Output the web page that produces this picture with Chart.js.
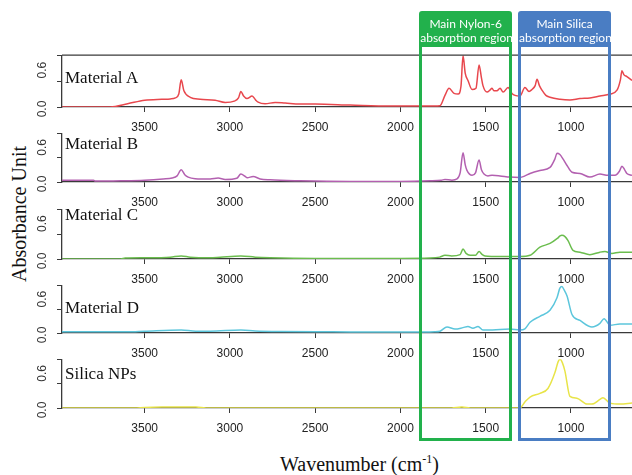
<!DOCTYPE html>
<html>
<head>
<meta charset="utf-8">
<script src="https://cdn.jsdelivr.net/npm/chart.js@4/dist/chart.umd.min.js"></script>
<style>
  html, body { margin: 0; padding: 0; background: #fff; }
  #wrap { position: relative; width: 632px; height: 475px; overflow: hidden; background: #fff; }
  canvas.panel { position: absolute; left: 0; }
  .mat { position: absolute; left: 65px; font: 17px "Liberation Serif", "Times New Roman", serif; line-height: 17px; color: #111; white-space: nowrap; }
  .ytitle { position: absolute; font: 20px "Liberation Serif", serif; color: #111; white-space: nowrap; transform: translate(-50%, -50%) rotate(-90deg); left: 19px; top: 214px; }
  .xtitle { position: absolute; left: 280px; top: 453px; font: 20px "Liberation Serif", serif; line-height: 22px; color: #111; white-space: nowrap; }
  .xtitle sup { font-size: 12px; vertical-align: 8px; line-height: 0; }
  .box { position: absolute; box-sizing: border-box; border: 3px solid; border-radius: 3px 3px 0 0; }
  .box .hdr { position: absolute; left: -2px; right: -2px; top: 0; height: 33px; color: #fff; text-align: center;
              font: 12px Lato, "Open Sans", sans-serif; line-height: 14px; padding-top: 3px; box-sizing: border-box; white-space: nowrap; }
</style>
</head>
<body>
<div id="wrap">
  <div class="ytitle">Absorbance Unit</div>
  <div class="xtitle">Wavenumber (cm<sup>-1</sup>)</div>
</div>
<script>
// ---- data ----
const materials = ['Material A', 'Material B', 'Material C', 'Material D', 'Silica NPs'];
const wavenumberTicks = [3500, 3000, 2500, 2000, 1500, 1000];
const absorbanceTicks = [0, 0.2, 0.4, 0.6, 0.8];
const labeledAbsorbance = [0, 0.6];
const nylonRegion = [1890, 1345];
const silicaRegion = [1310, 765];
const nylonLabel = ['Main Nylon-6', 'absorption region'];
const silicaLabel = ['Main Silica', 'absorption region'];

const wnA = [3985, 3702, 3600, 3500, 3400, 3350, 3320, 3300, 3286, 3270, 3233, 3175, 3087, 3028, 2975, 2950, 2936, 2920, 2900, 2870, 2850, 2835, 2794, 2735, 2676, 2589, 2500, 2295, 2061, 1885, 1800, 1768, 1739, 1715, 1686, 1662, 1645, 1633, 1620, 1604, 1580, 1557, 1539, 1525, 1516, 1492, 1475, 1463, 1452, 1434, 1416, 1398, 1369, 1346, 1328, 1299, 1270, 1246, 1229, 1210, 1199, 1185, 1170, 1147, 1123, 1064, 1006, 947, 889, 830, 771, 730, 710, 701, 690, 672, 642];
const absA = [0, 0, 0.05, 0.105, 0.12, 0.125, 0.14, 0.2, 0.42, 0.25, 0.15, 0.12, 0.105, 0.07, 0.09, 0.14, 0.24, 0.17, 0.13, 0.17, 0.11, 0.075, 0.05, 0.07, 0.06, 0.045, 0.045, 0.03, 0.015, 0.015, 0.015, 0.02, 0.18, 0.29, 0.21, 0.2, 0.32, 0.79, 0.52, 0.41, 0.27, 0.29, 0.65, 0.45, 0.33, 0.23, 0.26, 0.29, 0.25, 0.25, 0.29, 0.23, 0.30, 0.21, 0.18, 0.17, 0.30, 0.24, 0.27, 0.33, 0.43, 0.33, 0.26, 0.18, 0.15, 0.12, 0.11, 0.13, 0.14, 0.17, 0.2, 0.26, 0.42, 0.56, 0.5, 0.47, 0.41];

const wnB = [3985, 3800, 3790, 3640, 3500, 3392, 3339, 3310, 3286, 3265, 3245, 3204, 3116, 3069, 3028, 2960, 2936, 2910, 2899, 2864, 2823, 2764, 2589, 2295, 2002, 1826, 1760, 1739, 1698, 1668, 1650, 1633, 1620, 1610, 1580, 1560, 1539, 1525, 1510, 1487, 1463, 1416, 1358, 1299, 1270, 1240, 1182, 1123, 1094, 1082, 1065, 1047, 1023, 994, 947, 889, 830, 783, 742, 715, 701, 685, 672, 642];
const absB = [0.03, 0.03, 0.015, 0.02, 0.03, 0.05, 0.065, 0.1, 0.2, 0.12, 0.08, 0.055, 0.05, 0.065, 0.04, 0.06, 0.13, 0.09, 0.07, 0.09, 0.05, 0.035, 0.02, 0.01, 0.01, 0.02, 0.03, 0.04, 0.03, 0.05, 0.15, 0.48, 0.28, 0.19, 0.11, 0.15, 0.36, 0.2, 0.13, 0.1, 0.11, 0.1, 0.08, 0.075, 0.1, 0.14, 0.19, 0.24, 0.38, 0.47, 0.45, 0.38, 0.27, 0.16, 0.14, 0.08, 0.13, 0.11, 0.11, 0.18, 0.26, 0.2, 0.14, 0.11];

const wnC = [3985, 3640, 3615, 3500, 3350, 3286, 3233, 3116, 3057, 2936, 2852, 2764, 2500, 2000, 1826, 1770, 1739, 1700, 1650, 1633, 1615, 1592, 1560, 1539, 1520, 1504, 1416, 1299, 1240, 1182, 1123, 1080, 1064, 1053, 1035, 1018, 988, 947, 889, 830, 801, 760, 713, 642];
const absC = [0, 0, 0.015, 0.02, 0.03, 0.05, 0.03, 0.02, 0.03, 0.05, 0.03, 0.02, 0.01, 0.01, 0.015, 0.03, 0.06, 0.05, 0.07, 0.16, 0.09, 0.06, 0.06, 0.12, 0.07, 0.05, 0.04, 0.04, 0.06, 0.19, 0.25, 0.33, 0.37, 0.38, 0.36, 0.3, 0.14, 0.11, 0.07, 0.11, 0.12, 0.09, 0.11, 0.11];

const wnD = [3985, 3600, 3500, 3286, 3200, 3116, 2936, 2852, 2700, 2400, 2000, 1943, 1800, 1768, 1727, 1680, 1633, 1604, 1575, 1545, 1516, 1475, 1416, 1358, 1299, 1270, 1240, 1182, 1123, 1082, 1065, 1053, 1040, 1023, 994, 947, 877, 830, 806, 771, 713, 642];
const absD = [0.02, 0.02, 0.03, 0.05, 0.03, 0.03, 0.05, 0.035, 0.025, 0.02, 0.015, 0.015, 0.02, 0.03, 0.1, 0.065, 0.09, 0.11, 0.08, 0.11, 0.05, 0.05, 0.06, 0.065, 0.05, 0.07, 0.18, 0.28, 0.38, 0.59, 0.75, 0.78, 0.72, 0.62, 0.31, 0.21, 0.1, 0.16, 0.24, 0.13, 0.15, 0.15];

const wnE = [3985, 3560, 3500, 3400, 3200, 3140, 2800, 1700, 1640, 1590, 1300, 1270, 1240, 1182, 1135, 1094, 1075, 1064, 1050, 1035, 1006, 965, 906, 877, 830, 812, 771, 713, 642];
const absE = [0, 0, 0.01, 0.015, 0.015, 0, 0, 0, 0.015, 0, 0, 0.1, 0.18, 0.24, 0.32, 0.58, 0.76, 0.8, 0.74, 0.6, 0.19, 0.16, 0.065, 0.065, 0.14, 0.17, 0.08, 0.065, 0.08];

const wavenumbers = [wnA, wnB, wnC, wnD, wnE];
const absorbances = [absA, absB, absC, absD, absE];

// ---- styles / layout ----
const lineColors = ['#e8474d', '#b360b0', '#6bbd4e', '#5cc6dc', '#e8e448'];
const panelTop = [54, 132, 208, 284, 358];
const panelBottom = [107, 182, 259, 333, 408];
const labelBaselineOffset = [29, 17, 12, 29, 21];
const X_MIN = 642, X_MAX = 3985;
const AXIS_COLOR = '#3a3a3a';

Chart.defaults.font.family = '"Liberation Sans", Arial, sans-serif';
Chart.defaults.font.size = 12;
Chart.defaults.color = '#222';

const yLabelPlugin = {
  id: 'yLabels',
  afterDraw(chart, args, opts) {
    const ctx = chart.ctx, ys = chart.scales.y, a = chart.chartArea;
    ctx.save();
    ctx.font = '12px "Liberation Sans", Arial, sans-serif';
    ctx.fillStyle = '#333';
    ctx.textAlign = 'center';
    ctx.textBaseline = 'middle';
    labeledAbsorbance.forEach(v => {
      const py = ys.getPixelForValue(v);
      ctx.save();
      ctx.translate(a.left - 19, py + 2);
      ctx.rotate(-Math.PI / 2);
      ctx.fillText(v.toFixed(1), 0, 0);
      ctx.restore();
    });
    if (opts.topBorder) {
      ctx.strokeStyle = AXIS_COLOR;
      ctx.lineWidth = 1.3;
      ctx.beginPath();
      ctx.moveTo(a.left, a.top);
      ctx.lineTo(a.right, a.top);
      ctx.stroke();
    }
    ctx.restore();
  }
};

const wrap = document.getElementById('wrap');
const PAD_TOP = 6, XAXIS_H = 30;
const charts = [];

materials.forEach((name, i) => {
  const cv = document.createElement('canvas');
  cv.className = 'panel';
  const h = PAD_TOP + (panelBottom[i] - panelTop[i]) + XAXIS_H;
  cv.width = 632; cv.height = h;
  cv.style.top = (panelTop[i] - PAD_TOP) + 'px';
  cv.style.width = '632px'; cv.style.height = h + 'px';
  wrap.appendChild(cv);

  const pts = wavenumbers[i].map((w, k) => ({ x: w, y: absorbances[i][k] }));
  const ch = new Chart(cv, {
    type: 'line',
    data: { datasets: [{ label: name, data: pts, borderColor: lineColors[i], borderWidth: 1.5,
      pointRadius: 0, fill: false, cubicInterpolationMode: 'monotone' }] },
    options: {
      responsive: false, animation: false, devicePixelRatio: 1,
      layout: { padding: { top: PAD_TOP, left: 0, right: 0, bottom: 0 } },
      plugins: { legend: { display: false }, tooltip: { enabled: false }, yLabels: { topBorder: i === 0 } },
      scales: {
        x: {
          type: 'linear', reverse: true, min: X_MIN, max: X_MAX, z: 1,
          afterBuildTicks: s => { s.ticks = wavenumberTicks.map(v => ({ value: v })); },
          afterFit: s => { s.height = XAXIS_H; },
          ticks: { callback: v => String(v), padding: 8, maxRotation: 0, color: '#222', font: { size: 12 } },
          grid: { display: true, drawOnChartArea: false, drawTicks: true, tickLength: 5, color: AXIS_COLOR, lineWidth: 1 },
          border: { display: true, color: AXIS_COLOR, width: 1.3 }
        },
        y: {
          type: 'linear', min: 0, max: 0.8,
          afterBuildTicks: s => { s.ticks = absorbanceTicks.map(v => ({ value: v })); },
          afterFit: s => { s.width = 62; },
          ticks: { callback: () => '', padding: 0 },
          grid: { display: true, drawOnChartArea: false, drawTicks: true, tickLength: 5, color: AXIS_COLOR, lineWidth: 1 },
          border: { display: true, color: AXIS_COLOR, width: 1.3 }
        }
      }
    },
    plugins: [yLabelPlugin]
  });
  charts.push(ch);

  const lab = document.createElement('div');
  lab.className = 'mat';
  lab.textContent = name;
  lab.style.top = (panelTop[i] + labelBaselineOffset[i] - 14.2) + 'px';
  wrap.appendChild(lab);
});

// region boxes positioned from the x scale
function addBox(region, lines, color) {
  const xs = charts[0].scales.x;
  const l = xs.getPixelForValue(region[0]);
  const r = xs.getPixelForValue(region[1]);
  const box = document.createElement('div');
  box.className = 'box';
  box.style.borderColor = color;
  box.style.left = l + 'px';
  box.style.width = (r - l) + 'px';
  box.style.top = '11px';
  box.style.height = '430px';
  const hdr = document.createElement('div');
  hdr.className = 'hdr';
  hdr.style.background = color;
  lines.forEach(t => {
    const d = document.createElement('div');
    d.textContent = t;
    hdr.appendChild(d);
  });
  box.appendChild(hdr);
  wrap.appendChild(box);
}
addBox(nylonRegion, nylonLabel, '#22b14c');
addBox(silicaRegion, silicaLabel, '#4a7dc3');
</script>
</body>
</html>
